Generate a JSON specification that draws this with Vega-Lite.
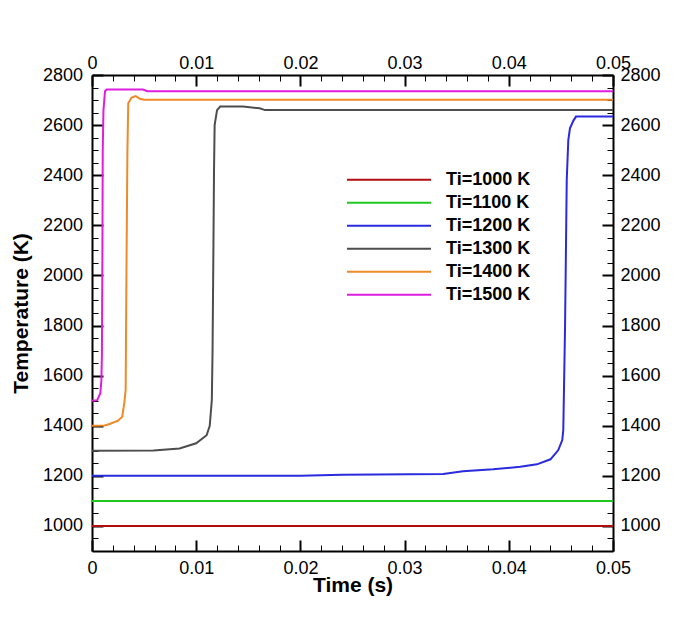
{
  "$schema": "https://vega.github.io/schema/vega-lite/v6.json",
  "width": 521,
  "height": 476,
  "autosize": "none",
  "padding": {"left": 92, "top": 75, "right": 85, "bottom": 70},
  "background": "white",
  "config": {
    "font": "Liberation Sans",
    "view": {"stroke": null},
    "axis": {
      "labelFont": "Liberation Sans",
      "labelFontSize": 18,
      "labelColor": "black",
      "titleFont": "Liberation Sans",
      "titleFontSize": 21,
      "titleFontWeight": "bold",
      "titleColor": "black",
      "domainColor": "black",
      "domainWidth": 2,
      "tickColor": "black",
      "grid": false,
      "labelFlush": false,
      "labelOverlap": false
    }
  },
  "data": {
    "values": [
      {"t": 0, "T": 1000, "series": "Ti=1000 K"},
      {"t": 0.05, "T": 1000, "series": "Ti=1000 K"},

      {"t": 0, "T": 1100, "series": "Ti=1100 K"},
      {"t": 0.05, "T": 1100, "series": "Ti=1100 K"},

      {"t": 0, "T": 1200, "series": "Ti=1200 K"},
      {"t": 0.02, "T": 1200, "series": "Ti=1200 K"},
      {"t": 0.024, "T": 1204, "series": "Ti=1200 K"},
      {"t": 0.0337, "T": 1207, "series": "Ti=1200 K"},
      {"t": 0.0356, "T": 1218, "series": "Ti=1200 K"},
      {"t": 0.0385, "T": 1226, "series": "Ti=1200 K"},
      {"t": 0.0411, "T": 1236, "series": "Ti=1200 K"},
      {"t": 0.0427, "T": 1246, "series": "Ti=1200 K"},
      {"t": 0.044, "T": 1266, "series": "Ti=1200 K"},
      {"t": 0.04475, "T": 1303, "series": "Ti=1200 K"},
      {"t": 0.04513, "T": 1343, "series": "Ti=1200 K"},
      {"t": 0.04523, "T": 1383, "series": "Ti=1200 K"},
      {"t": 0.0454, "T": 1800, "series": "Ti=1200 K"},
      {"t": 0.04556, "T": 2380, "series": "Ti=1200 K"},
      {"t": 0.04571, "T": 2540, "series": "Ti=1200 K"},
      {"t": 0.04587, "T": 2587, "series": "Ti=1200 K"},
      {"t": 0.0462, "T": 2618, "series": "Ti=1200 K"},
      {"t": 0.04645, "T": 2634, "series": "Ti=1200 K"},
      {"t": 0.05, "T": 2634, "series": "Ti=1200 K"},

      {"t": 0, "T": 1300, "series": "Ti=1300 K"},
      {"t": 0.0059, "T": 1301, "series": "Ti=1300 K"},
      {"t": 0.0084, "T": 1309, "series": "Ti=1300 K"},
      {"t": 0.01, "T": 1330, "series": "Ti=1300 K"},
      {"t": 0.011, "T": 1362, "series": "Ti=1300 K"},
      {"t": 0.0113, "T": 1400, "series": "Ti=1300 K"},
      {"t": 0.0115, "T": 1503, "series": "Ti=1300 K"},
      {"t": 0.01157, "T": 1700, "series": "Ti=1300 K"},
      {"t": 0.01165, "T": 2100, "series": "Ti=1300 K"},
      {"t": 0.01171, "T": 2420, "series": "Ti=1300 K"},
      {"t": 0.01177, "T": 2600, "series": "Ti=1300 K"},
      {"t": 0.012, "T": 2660, "series": "Ti=1300 K"},
      {"t": 0.0123, "T": 2674, "series": "Ti=1300 K"},
      {"t": 0.0145, "T": 2674, "series": "Ti=1300 K"},
      {"t": 0.0161, "T": 2667, "series": "Ti=1300 K"},
      {"t": 0.0166, "T": 2660, "series": "Ti=1300 K"},
      {"t": 0.05, "T": 2660, "series": "Ti=1300 K"},

      {"t": 0, "T": 1400, "series": "Ti=1400 K"},
      {"t": 0.0012, "T": 1401, "series": "Ti=1400 K"},
      {"t": 0.0017, "T": 1407, "series": "Ti=1400 K"},
      {"t": 0.0025, "T": 1420, "series": "Ti=1400 K"},
      {"t": 0.0029, "T": 1436, "series": "Ti=1400 K"},
      {"t": 0.0031, "T": 1491, "series": "Ti=1400 K"},
      {"t": 0.00323, "T": 1543, "series": "Ti=1400 K"},
      {"t": 0.0033, "T": 1980, "series": "Ti=1400 K"},
      {"t": 0.0034, "T": 2500, "series": "Ti=1400 K"},
      {"t": 0.00348, "T": 2687, "series": "Ti=1400 K"},
      {"t": 0.0038, "T": 2710, "series": "Ti=1400 K"},
      {"t": 0.0042, "T": 2716, "series": "Ti=1400 K"},
      {"t": 0.0046, "T": 2705, "series": "Ti=1400 K"},
      {"t": 0.005, "T": 2701, "series": "Ti=1400 K"},
      {"t": 0.05, "T": 2701, "series": "Ti=1400 K"},

      {"t": 0, "T": 1500, "series": "Ti=1500 K"},
      {"t": 0.0005, "T": 1502, "series": "Ti=1500 K"},
      {"t": 0.0008, "T": 1530, "series": "Ti=1500 K"},
      {"t": 0.0009, "T": 1580, "series": "Ti=1500 K"},
      {"t": 0.00095, "T": 1680, "series": "Ti=1500 K"},
      {"t": 0.001, "T": 2100, "series": "Ti=1500 K"},
      {"t": 0.00103, "T": 2500, "series": "Ti=1500 K"},
      {"t": 0.0011, "T": 2660, "series": "Ti=1500 K"},
      {"t": 0.00125, "T": 2735, "series": "Ti=1500 K"},
      {"t": 0.0014, "T": 2742, "series": "Ti=1500 K"},
      {"t": 0.0049, "T": 2742, "series": "Ti=1500 K"},
      {"t": 0.0053, "T": 2735, "series": "Ti=1500 K"},
      {"t": 0.05, "T": 2735, "series": "Ti=1500 K"}
    ]
  },
  "layer": [
    {
      "mark": {"type": "line", "strokeWidth": 2},
      "encoding": {
        "x": {
          "field": "t",
          "type": "quantitative",
          "scale": {"domain": [0, 0.05], "nice": false, "zero": false},
          "axis": {
            "orient": "bottom",
            "title": "Time (s)",
            "values": [0, 0.01, 0.02, 0.03, 0.04, 0.05],
            "format": "~g",
            "tickSize": -11,
            "tickWidth": 2,
            "labelPadding": 19,
            "titlePadding": -3
          }
        },
        "y": {
          "field": "T",
          "type": "quantitative",
          "scale": {"domain": [900, 2800], "nice": false, "zero": false},
          "axis": {
            "orient": "left",
            "title": "Temperature (K)",
            "values": [1000, 1200, 1400, 1600, 1800, 2000, 2200, 2400, 2600, 2800],
            "format": "d",
            "tickSize": -11,
            "tickWidth": 2,
            "labelPadding": 20.5,
            "titlePadding": 11
          }
        },
        "color": {
          "field": "series",
          "type": "nominal",
          "scale": {
            "domain": ["Ti=1000 K", "Ti=1100 K", "Ti=1200 K", "Ti=1300 K", "Ti=1400 K", "Ti=1500 K"],
            "range": ["#b20c0c", "#1ec81e", "#2a2ade", "#4d4d4d", "#ee8a28", "#de1ede"]
          },
          "legend": {
            "orient": "none",
            "legendX": 254,
            "legendY": 93.5,
            "title": null,
            "symbolType": "stroke",
            "symbolSize": 7056,
            "symbolStrokeWidth": 2,
            "labelFont": "Liberation Sans",
            "labelFontSize": 18,
            "labelFontWeight": "bold",
            "labelColor": "black",
            "clipHeight": 22.4,
            "rowPadding": 0,
            "padding": 0,
            "labelOffset": 14,
            "symbolOffset": 0
          }
        }
      }
    },
    {
      "mark": {"type": "line", "opacity": 0},
      "encoding": {
        "x": {
          "field": "t",
          "type": "quantitative",
          "scale": {"domain": [0, 0.05], "nice": false, "zero": false},
          "axis": {
            "orient": "top",
            "title": null,
            "values": [0, 0.01, 0.02, 0.03, 0.04, 0.05],
            "format": "~g",
            "tickSize": -11,
            "tickWidth": 2,
            "labelPadding": 14
          }
        },
        "y": {
          "field": "T",
          "type": "quantitative",
          "scale": {"domain": [900, 2800], "nice": false, "zero": false},
          "axis": {
            "orient": "right",
            "title": null,
            "values": [1000, 1200, 1400, 1600, 1800, 2000, 2200, 2400, 2600, 2800],
            "format": "d",
            "tickSize": -11,
            "tickWidth": 2,
            "labelPadding": 18
          }
        }
      }
    },
    {
      "mark": {"type": "line", "opacity": 0},
      "encoding": {
        "x": {
          "field": "t",
          "type": "quantitative",
          "scale": {"domain": [0, 0.05], "nice": false, "zero": false},
          "axis": {
            "orient": "bottom",
            "title": null,
            "labels": false,
            "domain": false,
            "values": [0.002, 0.004, 0.006, 0.008, 0.012, 0.014, 0.016, 0.018, 0.022, 0.024, 0.026, 0.028, 0.032, 0.034, 0.036, 0.038, 0.042, 0.044, 0.046, 0.048],
            "tickSize": -6,
            "tickWidth": 1
          }
        },
        "y": {
          "field": "T",
          "type": "quantitative",
          "scale": {"domain": [900, 2800], "nice": false, "zero": false},
          "axis": {
            "orient": "left",
            "title": null,
            "labels": false,
            "domain": false,
            "values": [950, 1050, 1100, 1150, 1250, 1300, 1350, 1450, 1500, 1550, 1650, 1700, 1750, 1850, 1900, 1950, 2050, 2100, 2150, 2250, 2300, 2350, 2450, 2500, 2550, 2650, 2700, 2750],
            "tickSize": -6,
            "tickWidth": 1
          }
        }
      }
    },
    {
      "mark": {"type": "line", "opacity": 0},
      "encoding": {
        "x": {
          "field": "t",
          "type": "quantitative",
          "scale": {"domain": [0, 0.05], "nice": false, "zero": false},
          "axis": {
            "orient": "top",
            "title": null,
            "labels": false,
            "domain": false,
            "values": [0.002, 0.004, 0.006, 0.008, 0.012, 0.014, 0.016, 0.018, 0.022, 0.024, 0.026, 0.028, 0.032, 0.034, 0.036, 0.038, 0.042, 0.044, 0.046, 0.048],
            "tickSize": -6,
            "tickWidth": 1
          }
        },
        "y": {
          "field": "T",
          "type": "quantitative",
          "scale": {"domain": [900, 2800], "nice": false, "zero": false},
          "axis": {
            "orient": "right",
            "title": null,
            "labels": false,
            "domain": false,
            "values": [950, 1050, 1100, 1150, 1250, 1300, 1350, 1450, 1500, 1550, 1650, 1700, 1750, 1850, 1900, 1950, 2050, 2100, 2150, 2250, 2300, 2350, 2450, 2500, 2550, 2650, 2700, 2750],
            "tickSize": -6,
            "tickWidth": 1
          }
        }
      }
    }
  ],
  "resolve": {"axis": {"x": "independent", "y": "independent"}}
}
